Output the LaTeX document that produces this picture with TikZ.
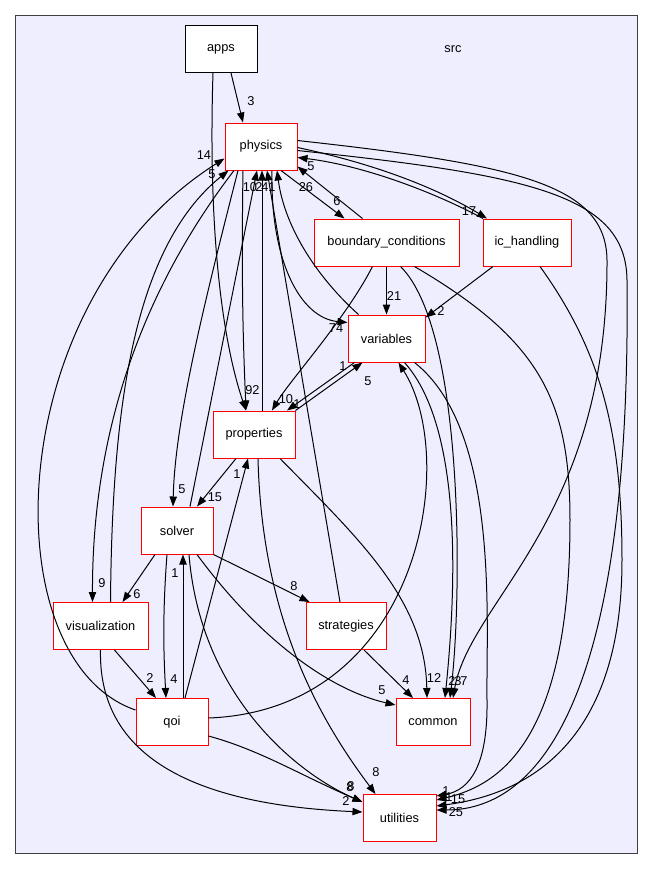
\documentclass[tikz,border=0pt]{standalone}
\usepackage{fontspec}
\setmainfont{Liberation Sans}
\usepackage{xcolor}
\usetikzlibrary{arrows.meta,calc}
\definecolor{clusterbg}{HTML}{EEEEFF}
\definecolor{clusterline}{HTML}{404040}

\begin{document}
\begin{tikzpicture}[x=0.75pt, y=-0.75pt, font=\fontsize{9.6}{11}\selectfont,
    dirbox/.style={draw=red, fill=white, line width=0.75pt, minimum height=35.25pt, inner sep=0pt},
    depline/.style={-{Triangle[length=7.5pt,width=5.5pt]}, line width=0.75pt},
    lbl/.style={inner sep=0pt}]
      \useasboundingbox (0,0) rectangle (653,869);
      \fill[white] (0,0) rectangle (653,869);
      % the src cluster
      \draw[clusterline, fill=clusterbg, line width=0.75pt] (15,15) rectangle (637,853);
      \node (srclabel) at (453,49) {src};
      % directories
      \node[dirbox, draw=black, minimum width=54pt] (apps) at (221,49) {apps};
      \node[dirbox, minimum width=54pt] (physics) at (261,146.5) {physics};
      \node[dirbox, minimum width=108.75pt] (bcond) at (386.5,242.5) {boundary\_conditions};
      \node[dirbox, minimum width=66pt] (ichand) at (527,242.5) {ic\_handling};
      \node[dirbox, minimum width=57.75pt] (variables) at (386.5,338.5) {variables};
      \node[dirbox, minimum width=61.5pt] (properties) at (254,434.5) {properties};
      \node[dirbox, minimum width=54pt] (solver) at (177,530.5) {solver};
      \node[dirbox, minimum width=60pt] (strategies) at (346,626) {strategies};
      \node[dirbox, minimum width=71.25pt] (visualization) at (100.5,626) {visualization};
      \node[dirbox, minimum width=54pt] (qoi) at (172,722) {qoi};
      \node[dirbox, minimum width=55.5pt] (common) at (433,722) {common};
      \node[dirbox, minimum width=54.75pt] (utilities) at (399.5,818) {utilities};
      % apps
      \draw[depline] ($(apps.south)+(10,0)$) -- ($(physics.north)+(-18,0)$);
      \node[lbl] (l-apps-phys) at (251,101) {3};
      \draw[depline] ($(apps.south)+(-8,0)$) .. controls (208,230) and (222,340) .. ($(properties.north)+(-8,0)$);
      \node[lbl] (l-apps-prop) at (249,390) {9};
      % physics depends on
      \draw[depline] ($(physics.south)+(-18,0)$) .. controls (241,300) and (244,360) .. ($(properties.north)+(-8,0)$);
      \node[lbl] (l-phys-prop) at (256,390) {2};
      \draw[depline] ($(physics.south)+(-23,0)$) .. controls (205,300) and (175,420) .. ($(solver.north)+(-4,0)$);
      \node[lbl] (l-phys-solv) at (182,489) {5};
      \draw[depline] ($(physics.south)+(-27,0)$) .. controls (150,280) and (92,420) .. ($(visualization.north)+(-8,0)$);
      \node[lbl] (l-phys-visu) at (102,583) {9};
      \draw[depline] ($(physics.south)+(20,0)$) -- ($(bcond.north)+(-42,0)$);
      \node[lbl] (l-phys-bcon) at (337,201) {6};
      \draw[depline] ($(physics.south)+(11,0)$) .. controls (270,260) and (300,318) .. ($(variables.west)+(0,-16)$);
      \node[lbl] (l-phys-vari) at (336,328) {74};
      \draw[depline] ($(physics.east)+(0,1)$) .. controls (380,165) and (440,190) .. ($(ichand.north)+(-40,0)$);
      \node[lbl] (l-phys-ichd) at (469,211) {17};
      \draw[depline] ($(physics.east)+(0,-6)$) .. controls (520,165) and (606,185) .. (607,260)
        .. controls (608,520) and (470,600) .. ($(common.north)+(20,0)$);
      \node[lbl] (l-phys-comm) at (464,681) {7};
      \draw[depline] ($(physics.east)+(0,4)$) .. controls (530,175) and (626,195) .. (627,280)
        .. controls (632,740) and (520,810) .. ($(utilities.east)+(0,-8)$);
      \node[lbl] (l-phys-util) at (456,812) {25};
      % into physics
      \draw[depline] ($(solver.north)+(13,0)$) -- ($(physics.south)+(-4,0)$);
      \node[lbl] (l-solv-phys) at (250,187) {10};
      \draw[depline] ($(properties.north)+(8,0)$) -- ($(physics.south)+(1,0)$);
      \node[lbl] (l-prop-phys) at (259,187) {2};
      \draw[depline] ($(strategies.north)+(-6,0)$) -- ($(physics.south)+(6,0)$);
      \node[lbl] (l-strt-phys) at (265,187) {4};
      \draw[depline] ($(variables.north)+(-28,0)$) .. controls (320,280) and (285,230) .. ($(physics.south)+(16,0)$);
      \node[lbl] (l-vari-phys) at (272,187) {1};
      \draw[depline] ($(visualization.north)+(10,0)$) .. controls (112,420) and (130,250) .. ($(physics.south west)+(4,0)$);
      \node[lbl] (l-visu-phys) at (212,174) {5};
      \draw[depline] ($(qoi.west)+(0,-12)$) .. controls (-10,660) and (0,300) .. ($(physics.west)+(0,12)$);
      \node[lbl] (l-qoi-phys) at (204,155) {14};
      \draw[depline] ($(bcond.north)+(-24,0)$) -- ($(physics.east)+(0,20)$);
      \node[lbl] (l-bcon-phys) at (306,187) {26};
      \draw[depline] ($(ichand.north)+(-44,0)$) .. controls (430,190) and (360,165) .. ($(physics.east)+(0,11)$);
      \node[lbl] (l-ichd-phys) at (311,166) {5};
      % boundary_conditions
      \draw[depline] (bcond.south) -- (variables.north);
      \node[lbl] (l-bcon-vari) at (394,296) {21};
      \draw[depline] ($(bcond.south)+(-14,0)$) .. controls (345,320) and (290,380) .. ($(properties.north)+(18,0)$);
      \node[lbl] (l-bcon-prop) at (286,399) {10};
      \draw[depline] ($(bcond.south)+(14,0)$) .. controls (465,330) and (462,600) .. ($(common.north)+(17,0)$);
      \node[lbl] (l-bcon-comm) at (458,681) {3};
      \draw[depline] ($(bcond.south)+(28,0)$) .. controls (540,340) and (570,400) .. (570,520)
        .. controls (570,740) and (500,785) .. ($(utilities.east)+(0,-18)$);
      \node[lbl] (l-bcon-util) at (449,797) {1};
      % ic_handling
      \draw[depline] ($(ichand.south)+(-34,0)$) -- ($(variables.north east)+(0,3)$);
      \node[lbl] (l-ichd-vari) at (441,311) {2};
      \draw[depline] ($(ichand.south)+(13,0)$) .. controls (600,350) and (622,430) .. (622,560)
        .. controls (622,750) and (520,795) .. ($(utilities.east)+(0,-12)$);
      \node[lbl] (l-ichd-util) at (458,799) {15};
      % variables
      \draw[depline] ($(variables.south)+(-32,0)$) -- ($(properties.north)+(33,0)$);
      \node[lbl] (l-vari-prop) at (297,404) {1};
      \draw[depline] (properties.north east) -- ($(variables.south)+(-24,0)$);
      \node[lbl] (l-prop-vari) at (343,366) {1};
      \draw[depline] ($(variables.south)+(18,0)$) .. controls (465,430) and (455,600) .. ($(common.north)+(12,0)$);
      \node[lbl] (l-vari-comm) at (452,681) {2};
      \draw[depline] ($(variables.south)+(28,0)$) .. controls (500,430) and (486,620) .. (487,700)
        .. controls (488,765) and (470,790) .. ($(utilities.east)+(0,-22)$);
      \node[lbl] (l-vari-util) at (446,791) {1};
      % properties
      \draw[depline] ($(properties.south)+(-18,0)$) -- ($(solver.north)+(20,0)$);
      \node[lbl] (l-prop-solv) at (215,497) {15};
      \draw[depline] ($(properties.south)+(26,0)$) .. controls (360,540) and (425,600) .. ($(common.north)+(-6,0)$);
      \node[lbl] (l-prop-comm) at (434,678) {12};
      \draw[depline] ($(properties.south)+(4,0)$) .. controls (262,620) and (320,720) .. ($(utilities.north)+(-24,0)$);
      \node[lbl] (l-prop-util) at (376,772) {8};
      % solver
      \draw[depline] ($(solver.south)+(-22,0)$) -- ($(visualization.north)+(22,0)$);
      \node[lbl] (l-solv-visu) at (137,594) {6};
      \draw[depline] ($(solver.south)+(-10,0)$) .. controls (162,620) and (164,660) .. ($(qoi.north)+(-6,0)$);
      \node[lbl] (l-solv-qoi) at (174,679) {4};
      \draw[depline] (solver.south east) -- ($(strategies.north west)+(4,0)$);
      \node[lbl] (l-solv-strt) at (294,586) {8};
      \draw[depline] ($(solver.south)+(20,0)$) .. controls (260,640) and (330,690) .. ($(common.west)+(0,-17)$);
      \node[lbl] (l-solv-comm) at (382,690) {5};
      \draw[depline] ($(solver.south)+(12,0)$) .. controls (200,690) and (290,770) .. ($(utilities.west)+(0,-16)$);
      \node[lbl] (l-solv-util) at (350,787) {8};
      % strategies
      \draw[depline] ($(strategies.south)+(18,0)$) -- ($(common.north)+(-20,0)$);
      \node[lbl] (l-strt-comm) at (406,680) {4};
      % visualization
      \draw[depline] ($(visualization.south)+(14,0)$) -- ($(qoi.north)+(-16,0)$);
      \node[lbl] (l-visu-qoi) at (150,678) {2};
      \draw[depline] (visualization.south) .. controls (98,760) and (200,805) .. ($(utilities.west)+(0,-6)$);
      \node[lbl] (l-visu-util) at (346,801) {2};
      % qoi
      \draw[depline] ($(qoi.north)+(11,0)$) -- ($(solver.south)+(6,0)$);
      \node[lbl] (l-qoi-solv) at (175,573) {1};
      \draw[depline] ($(qoi.north)+(13,0)$) -- ($(properties.south)+(-6,0)$);
      \node[lbl] (l-qoi-prop) at (237,474) {1};
      \draw[depline] ($(qoi.east)+(0,-4)$) .. controls (420,710) and (460,460) .. ($(variables.south)+(12,0)$);
      \node[lbl] (l-qoi-vari) at (368,381) {5};
      \draw[depline] ($(qoi.east)+(0,14)$) .. controls (260,750) and (300,775) .. ($(utilities.west)+(0,-16)$);
      \node[lbl] (l-qoi-util) at (351,786) {8};
    \end{tikzpicture}
\end{document}
